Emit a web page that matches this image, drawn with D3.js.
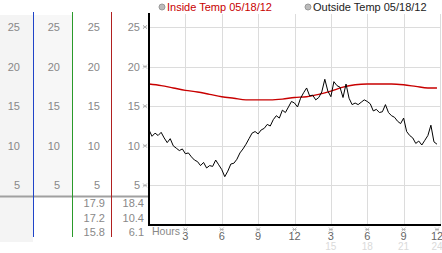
<!DOCTYPE html>
<html>
<head>
<meta charset="utf-8">
<script src="https://cdn.jsdelivr.net/npm/d3@7"></script>
<style>
  body { margin: 0; background: #fff; }
  svg { display: block; font-family: "Liberation Sans", Arial, sans-serif; }
</style>
</head>
<body>
<div id="chart"></div>
<script>
// data
var yTicks = [5, 10, 15, 20, 25];
var hourTicks = [3, 6, 9, 12, 15, 18, 21, 24];
var hourLabels = ["3", "6", "9", "12", "3", "6", "9", "12"];
var lateLabels = ["15", "18", "21", "24"];

var insideHours = [0, 1, 2, 3, 4, 5, 6, 7, 8, 9, 10, 11, 12, 13, 14, 15, 16, 17, 18, 19, 20, 21, 22, 23, 23.75];
var insideTemp = [17.8, 17.6, 17.3, 17.0, 16.8, 16.5, 16.2, 16.0, 15.8, 15.8, 15.8, 15.9, 16.1, 16.2, 16.5, 16.9, 17.4, 17.7, 17.8, 17.8, 17.8, 17.7, 17.5, 17.3, 17.3];

// outside temp, one reading every 15 minutes from 00:00
var outsideTemp = [
  12.0, 11.2, 11.6, 11.3, 11.7, 11.0, 10.4, 10.9,
  10.0, 9.7, 9.4, 9.6, 9.0, 9.1, 8.6, 8.2,
  8.0, 7.5, 7.9, 7.2, 7.5, 7.4, 8.2, 7.6,
  7.0, 6.1, 6.8, 7.7, 7.8, 8.3, 9.1, 9.6,
  10.2, 10.9, 11.6, 11.8, 11.5, 12.0, 12.2, 12.7,
  12.5, 13.3, 13.8, 13.5, 14.5, 14.2, 14.9, 15.6,
  15.4, 14.9, 16.0, 16.7, 17.3, 16.3, 16.4, 15.8,
  16.1, 16.8, 18.4, 16.9, 16.2, 18.1, 17.6, 17.4,
  16.1, 17.8, 16.0, 15.2, 15.4, 15.2, 15.5, 15.8,
  15.6, 15.3, 14.4, 14.6, 14.2, 14.3, 15.2, 14.2,
  13.8, 13.6, 13.1, 12.8, 13.5, 11.8, 11.3, 11.0,
  10.3, 10.6, 10.1, 10.7, 11.3, 12.6, 10.5, 10.2
];
var outsideStep = 0.25;

var insideStats = ["17.9", "17.2", "15.8"];
var outsideStats = ["18.4", "10.4", "6.1"];

var width = 442, height = 253;

var svg = d3.select("#chart")
    .append("svg")
    .attr("width", width)
    .attr("height", height);

var x = d3.scaleLinear().domain([0, 24]).range([149, 440]);
var y = d3.scaleLinear().domain([0, 25]).range([225, 27]);

// small hatched tick mark
function tickMark(g) {
    g.append("path")
        .attr("d", "M-2,-2L2,2M2,-2L-2,2M-2,0L2,0")
        .attr("stroke", "#aaa")
        .attr("stroke-width", 0.8)
        .attr("fill", "none");
}

// left side panel backgrounds
svg.append("rect").attr("x", 0).attr("y", 15).attr("width", 33).attr("height", 227).attr("fill", "#f4f4f4");
svg.append("rect").attr("x", 33).attr("y", 15).attr("width", 39).attr("height", 181).attr("fill", "#f7f7f7");

// grid
svg.append("g").selectAll("line")
    .data(yTicks)
    .join("line")
    .attr("x1", x(0)).attr("x2", x(24))
    .attr("y1", function(d) { return Math.round(y(d)) + 0.5; })
    .attr("y2", function(d) { return Math.round(y(d)) + 0.5; })
    .attr("stroke", "#dcdcdc");

svg.append("g").selectAll("line")
    .data(hourTicks)
    .join("line")
    .attr("x1", function(d) { return Math.round(x(d)) + 0.5; })
    .attr("x2", function(d) { return Math.round(x(d)) + 0.5; })
    .attr("y1", 14).attr("y2", y(0))
    .attr("stroke", "#dcdcdc");

// column labels (four columns share the same y scale)
var colRight = [20, 60, 100, 140];
colRight.forEach(function(cx) {
    svg.append("g").selectAll("text")
        .data(yTicks)
        .join("text")
        .attr("x", cx)
        .attr("y", function(d) { return y(d) + 4; })
        .attr("text-anchor", "end")
        .attr("font-size", 11)
        .attr("fill", "#888")
        .text(function(d) { return d; });
});

// tick marks on the y axis
svg.append("g").selectAll("g")
    .data(yTicks)
    .join("g")
    .attr("transform", function(d) { return "translate(145," + y(d) + ")"; })
    .call(tickMark);

// separator
svg.append("line")
    .attr("x1", 0).attr("x2", x(0))
    .attr("y1", 196.5).attr("y2", 196.5)
    .attr("stroke", "#a0a0a0").attr("stroke-width", 2);

// coloured column lines
var colLines = [{x: 33.5, c: "#1f44c8"}, {x: 72.5, c: "#2a9a2a"}, {x: 111.5, c: "#b02020"}];
svg.append("g").selectAll("line")
    .data(colLines)
    .join("line")
    .attr("x1", function(d) { return d.x; }).attr("x2", function(d) { return d.x; })
    .attr("y1", 12).attr("y2", 237)
    .attr("stroke", function(d) { return d.c; });

// stats
[{r: 105, v: insideStats}, {r: 144, v: outsideStats}].forEach(function(col) {
    svg.append("g").selectAll("text")
        .data(col.v)
        .join("text")
        .attr("x", col.r)
        .attr("y", function(d, i) { return 207 + i * 14.5; })
        .attr("text-anchor", "end")
        .attr("font-size", 11)
        .attr("fill", "#888")
        .text(function(d) { return d; });
});

// lines
var insideLine = d3.line()
    .x(function(d, i) { return x(insideHours[i]); })
    .y(function(d) { return y(d); })
    .curve(d3.curveMonotoneX);

svg.append("path")
    .datum(insideTemp)
    .attr("d", insideLine)
    .attr("fill", "none")
    .attr("stroke", "#c80000")
    .attr("stroke-width", 1.4);

var outsideLine = d3.line()
    .x(function(d, i) { return x(i * outsideStep); })
    .y(function(d) { return y(d); });

svg.append("path")
    .datum(outsideTemp)
    .attr("d", outsideLine)
    .attr("fill", "none")
    .attr("stroke", "#000")
    .attr("stroke-width", 1);

// axes lines
svg.append("line")
    .attr("x1", 149).attr("x2", 149)
    .attr("y1", 13).attr("y2", 226)
    .attr("stroke", "#000").attr("stroke-width", 2);
svg.append("line")
    .attr("x1", 148).attr("x2", 441)
    .attr("y1", 225).attr("y2", 225)
    .attr("stroke", "#000").attr("stroke-width", 2);

// x labels
svg.append("text")
    .attr("x", 152).attr("y", 235)
    .attr("font-size", 10.5)
    .attr("fill", "#888")
    .text("Hours");

svg.append("g").selectAll("g")
    .data(hourTicks)
    .join("g")
    .attr("transform", function(d) { return "translate(" + Math.min(x(d), 437) + ",229.5)"; })
    .call(tickMark);

svg.append("g").selectAll("text")
    .data(hourTicks)
    .join("text")
    .attr("x", function(d) { return Math.min(x(d), 437); })
    .attr("y", 240)
    .attr("text-anchor", "middle")
    .attr("font-size", 11)
    .attr("fill", "#666")
    .text(function(d, i) { return hourLabels[i]; });

svg.append("g").selectAll("text")
    .data(hourTicks.slice(4))
    .join("text")
    .attr("x", function(d) { return Math.min(x(d), 437); })
    .attr("y", 250)
    .attr("text-anchor", "middle")
    .attr("font-size", 10)
    .attr("fill", "#dadada")
    .text(function(d, i) { return lateLabels[i]; });

// legend
var legend = [{x: 162, label: "Inside Temp 05/18/12", c: "#c80000"},
              {x: 308, label: "Outside Temp 05/18/12", c: "#222"}];
var lg = svg.append("g").selectAll("g")
    .data(legend)
    .join("g")
    .attr("transform", function(d) { return "translate(" + d.x + ",7)"; });
lg.append("circle")
    .attr("r", 3)
    .attr("fill", "#bbb")
    .attr("stroke", "#999");
lg.append("text")
    .attr("x", 5).attr("y", 4)
    .attr("font-size", 11)
    .attr("fill", function(d) { return d.c; })
    .text(function(d) { return d.label; });
</script>
</body>
</html>
